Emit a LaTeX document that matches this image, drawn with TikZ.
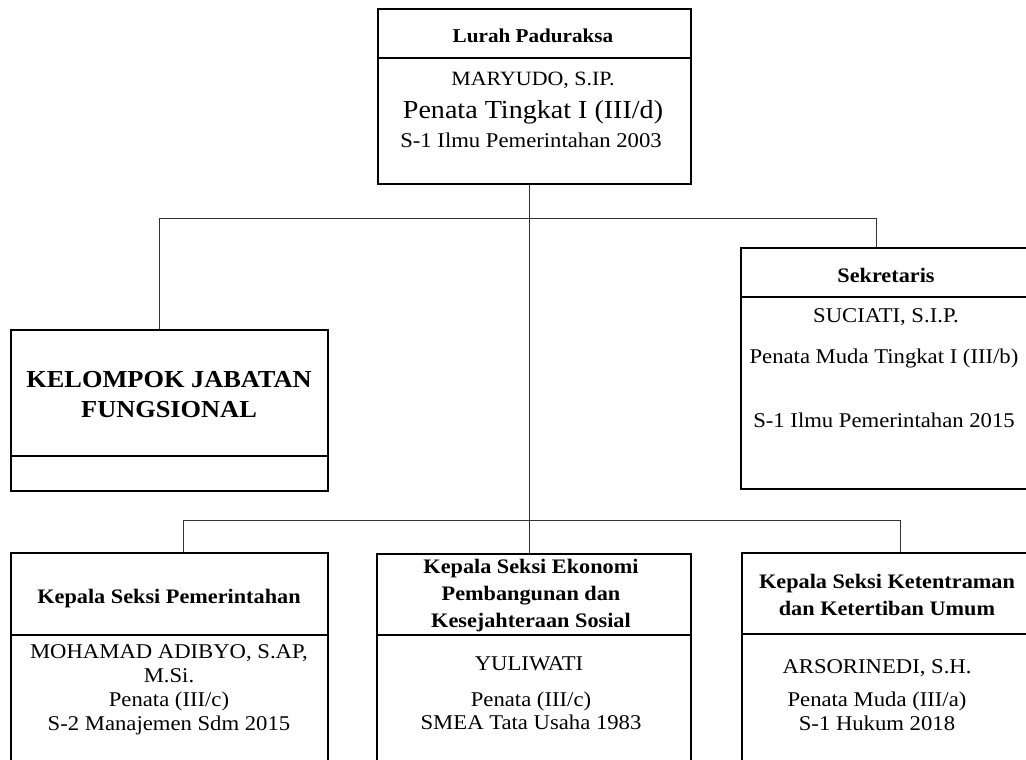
\documentclass[tikz,border=0pt]{standalone}
\usepackage{fontspec}
\setmainfont{Liberation Serif}[FakeStretch=1.08]
\begin{document}
\begin{tikzpicture}[x=1pt,y=-1pt,
  box/.style={draw, line width=1.6pt, rectangle, inner sep=0pt, anchor=north west},
  divider/.style={line width=1.2pt},
  conn/.style={line width=0.9pt, black!80},
  txt/.style={anchor=base, inner sep=0pt, font=\fontsize{21}{24}\selectfont},
  txtsm/.style={anchor=base, inner sep=0pt, font=\fontsize{20.3}{24}\selectfont},
  big/.style={anchor=base, inner sep=0pt, font=\fontsize{26}{30}\selectfont},
  ttl/.style={anchor=base, inner sep=0pt, font=\fontsize{20.6}{24}\selectfont\bfseries},
  ttlsm/.style={anchor=base, inner sep=0pt, font=\fontsize{19.6}{22}\selectfont\bfseries},
  kjfttl/.style={anchor=base, inner sep=0pt, font=\fontsize{24.4}{30}\selectfont\bfseries}]
\useasboundingbox (0,0) rectangle (1026,760);
\clip (0,0) rectangle (1026,760);
% boxes
\node[box, minimum width=313pt, minimum height=175pt] (lurah) at (377,8) {};
\node[box, minimum width=317pt, minimum height=161pt] (kjf) at (10,329) {};
\node[box, minimum width=300pt, minimum height=241pt] (sek) at (740,247) {};
\node[box, minimum width=317pt, minimum height=260pt] (kps) at (10,552) {};
\node[box, minimum width=314pt, minimum height=260pt] (kpe) at (376,553) {};
\node[box, minimum width=300pt, minimum height=260pt] (kpk) at (741,552) {};
% dividers
\draw[divider] (lurah.west |- 0,58) -- (lurah.east |- 0,58);
\draw[divider] (kjf.west |- 0,456) -- (kjf.east |- 0,456);
\draw[divider] (sek.west |- 0,297) -- (sek.east |- 0,297);
\draw[divider] (kps.west |- 0,635) -- (kps.east |- 0,635);
\draw[divider] (kpe.west |- 0,635) -- (kpe.east |- 0,635);
\draw[divider] (kpk.west |- 0,634) -- (kpk.east |- 0,634);
% connectors
\coordinate (mid) at (529,218);
\coordinate (hl) at (159,218);
\coordinate (hr) at (876,218);
\coordinate (bl) at (183,520);
\coordinate (br) at (900,520);
\draw[conn] (mid |- lurah.south) -- (mid |- kpe.north);
\draw[conn] (hl |- kjf.north) -- (hl) -- (hr) -- (hr |- sek.north);
\draw[conn] (bl |- kps.north) -- (bl) -- (br) -- (br |- kpk.north);
% top box text
\node[ttlsm] (t1) at (533,43) {Lurah Paduraksa};
\node[txtsm] (t2) at (533,85) {MARYUDO, S.IP.};
\node[big] (t3) at (533,118) {Penata Tingkat I (III/d)};
\node[txt] (t4) at (531,147) {S-1 Ilmu Pemerintahan 2003};
% KJF
\node[kjfttl] (k1) at (169,387) {KELOMPOK JABATAN};
\node[kjfttl] (k2) at (169,417) {FUNGSIONAL};
% Sekretaris
\node[ttl] (s1) at (886,282) {Sekretaris};
\node[txt] (s2) at (886,322) {SUCIATI, S.I.P.};
\node[txt] (s3) at (884,363) {Penata Muda Tingkat I (III/b)};
\node[txt] (s4) at (884,427) {S-1 Ilmu Pemerintahan 2015};
% Kepala Seksi Pemerintahan
\node[ttl] (p1) at (169,603) {Kepala Seksi Pemerintahan};
\node[txt] (p2) at (169,658) {MOHAMAD ADIBYO, S.AP,};
\node[txt] (p3) at (169,682) {M.Si.};
\node[txt] (p4) at (169,706) {Penata (III/c)};
\node[txt] (p5) at (169,730) {S-2 Manajemen Sdm 2015};
% Kepala Seksi Ekonomi
\node[ttl] (e1) at (531,573) {Kepala Seksi Ekonomi};
\node[ttl] (e2) at (531,600) {Pembangunan dan};
\node[ttl] (e3) at (531,627) {Kesejahteraan Sosial};
\node[txt] (e4) at (529,670) {YULIWATI};
\node[txt] (e5) at (531,706) {Penata (III/c)};
\node[txt] (e6) at (531,729) {SMEA Tata Usaha 1983};
% Kepala Seksi Ketentraman
\node[ttl] (r1) at (887,588) {Kepala Seksi Ketentraman};
\node[ttl] (r2) at (887,615) {dan Ketertiban Umum};
\node[txt] (r3) at (877,673) {ARSORINEDI, S.H.};
\node[txt] (r4) at (877,706) {Penata Muda (III/a)};
\node[txt] (r5) at (877,730) {S-1 Hukum 2018};
\end{tikzpicture}
\end{document}
